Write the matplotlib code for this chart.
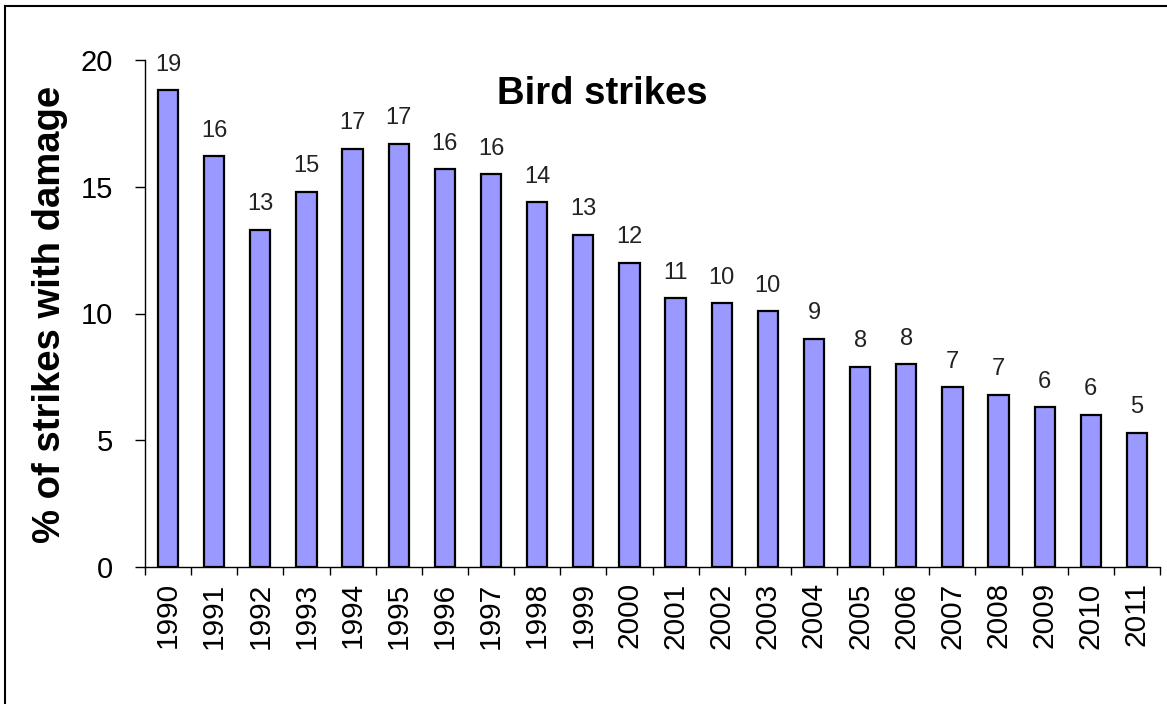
import matplotlib
matplotlib.use("Agg")
import matplotlib.pyplot as plt
from matplotlib.lines import Line2D
import numpy as np

years = ["1990", "1991", "1992", "1993", "1994", "1995", "1996", "1997",
         "1998", "1999", "2000", "2001", "2002", "2003", "2004", "2005",
         "2006", "2007", "2008", "2009", "2010", "2011"]
pct_damage = [18.8, 16.2, 13.3, 14.8, 16.5, 16.7, 15.7, 15.5, 14.4, 13.1,
              12.0, 10.6, 10.4, 10.1, 9.0, 7.9, 8.0, 7.1, 6.8, 6.3, 6.0, 5.3]
value_labels = ["19", "16", "13", "15", "17", "17", "16", "16", "14", "13",
                "12", "11", "10", "10", "9", "8", "8", "7", "7", "6", "6", "5"]
y_ticks = [0, 5, 10, 15, 20]

plt.rcParams["font.family"] = ["Liberation Sans", "DejaVu Sans"]

fig = plt.figure(figsize=(11.67, 7.04), dpi=100, facecolor="white")
ax = fig.add_axes([145 / 1167, 1 - 567 / 704, 1015 / 1167, 507 / 704])

x = np.arange(len(years))
ax.bar(x, pct_damage, width=0.44, color="#9999FF", edgecolor="black",
       linewidth=1.6, zorder=2)

for xi, val, lab in zip(x, pct_damage, value_labels):
    ax.annotate(lab, (xi, val), xytext=(0, 14), textcoords="offset points",
                ha="center", va="baseline", fontsize=17, color="#222222")

ax.set_xlim(-0.5, len(years) - 0.5)
ax.set_ylim(0, 20)

ax.spines["top"].set_visible(False)
ax.spines["right"].set_visible(False)
ax.spines["left"].set_linewidth(1.0)
ax.spines["bottom"].set_linewidth(1.0)

ax.set_yticks(y_ticks)
ax.set_yticklabels([str(t) for t in y_ticks], fontsize=21)
ax.tick_params(axis="y", direction="out", length=7, width=1, pad=16)

ax.set_xticks(x)
ax.set_xticklabels(years, rotation=90, fontsize=21.5)
ax.tick_params(axis="x", which="major", length=0, pad=11)
ax.set_xticks(np.arange(len(years) + 1) - 0.5, minor=True)
ax.tick_params(axis="x", which="minor", direction="out", length=6, width=1)

fig.text(50 / 1167, 1 - 314 / 704, "% of strikes with damage", rotation=90,
         ha="center", va="center", fontsize=27.5, fontweight="bold")
fig.text(602 / 1167, 1 - 94 / 704, "Bird strikes", ha="center", va="center",
         fontsize=27.5, fontweight="bold")

# frame on the left and top edge, as in the cropped original
fig.add_artist(Line2D([5 / 1167, 5 / 1167], [0, 1 - 6 / 704],
                      transform=fig.transFigure, color="black", linewidth=1.5))
fig.add_artist(Line2D([5 / 1167, 1], [1 - 6 / 704, 1 - 6 / 704],
                      transform=fig.transFigure, color="black", linewidth=1.5))

fig.savefig("out.png", dpi=100, facecolor="white")
